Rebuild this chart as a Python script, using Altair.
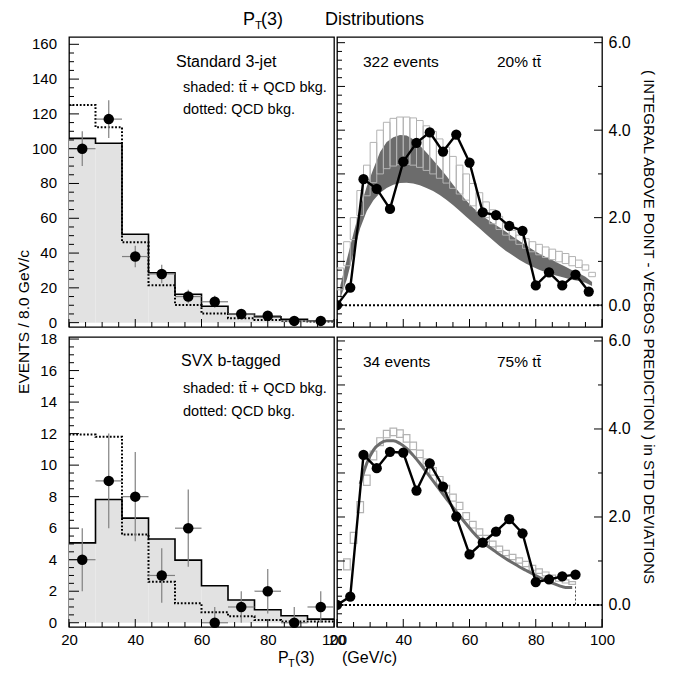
import altair as alt
import pandas as pd

FONT = "Liberation Sans"
W, H = 265, 290
U = alt.Undefined

# ---------------- left panels: 8 GeV histograms ----------------
EDGES = [20, 28, 36, 44, 52, 60, 68, 76, 84, 92, 100]
CENTERS = [24, 32, 40, 48, 56, 64, 72, 80, 88, 96]

TL_SHADED = [105.9, 103.1, 50.8, 28.7, 16.3, 9.4, 5.0, 3.4, 1.9, 1.1]
TL_DOTTED = [125.1, 112.3, 46.2, 21.5, 10.2, 5.2, 2.5, 1.5, 1.0, 0.6]
TL_DATA = [100, 117, 38, 28, 15, 12, 5, 4, 1, 1]
TL_ERR_LO = [10.0, 10.8, 6.2, 5.3, 3.9, 3.5, 2.2, 2.0, 1.0, 1.0]
TL_ERR_HI = [10.0, 10.8, 6.2, 5.3, 3.9, 3.5, 2.2, 2.0, 1.0, 1.0]

BL_SHADED = [5.07, 7.82, 6.64, 5.31, 3.97, 2.35, 1.44, 0.82, 0.44, 0.23]
BL_DOTTED = [11.95, 11.8, 5.6, 2.6, 1.23, 0.66, 0.42, 0.17, 0.08, 0.08]
BL_DATA = [4, 9, 8, 3, 6, 0, 1, 2, 0, 1]
BL_ERR_LO = [2.0, 3.0, 2.83, 1.73, 2.45, 0.0, 1.0, 1.41, 0.0, 1.0]
BL_ERR_HI = [2.0, 3.0, 2.83, 1.73, 2.45, 1.0, 1.0, 1.41, 1.0, 1.0]

# ---------------- right panels ----------------
TR_X = [20, 24, 28, 32, 36, 40, 44, 48, 52, 56, 60, 64, 68, 72, 76, 80, 84, 88, 92, 96]
TR_Y = [0.0, 0.40, 2.88, 2.66, 2.20, 3.28, 3.71, 3.95, 3.51, 3.90, 3.26, 2.12, 2.06,
        1.81, 1.70, 0.45, 0.75, 0.45, 0.70, 0.31]

TR_BAND_X0 = [20, 22, 24, 26, 28, 30, 32, 34, 36, 38, 40, 42, 44, 46, 48, 50, 52, 54, 56,
              58, 60, 62, 64, 66, 68, 70, 72, 74, 76, 78, 80, 82, 84, 86, 88, 90, 92, 94, 96]
TR_DARK_HI = [0.45, 1.05, 1.65, 2.22, 2.72, 3.12, 3.50, 3.73, 3.84, 3.89, 3.88, 3.79, 3.65,
              3.49, 3.32, 3.14, 2.96, 2.76, 2.57, 2.39, 2.23, 2.10, 1.98, 1.88, 1.78, 1.68,
              1.57, 1.47, 1.37, 1.27, 1.18, 1.10, 1.03, 0.95, 0.88, 0.80, 0.73, 0.65, 0.53]
TR_DARK_LO = [0.15, 0.60, 1.20, 1.76, 2.15, 2.40, 2.57, 2.68, 2.75, 2.79, 2.80, 2.78, 2.74,
              2.68, 2.61, 2.52, 2.41, 2.29, 2.16, 2.02, 1.89, 1.76, 1.62, 1.49, 1.36, 1.24,
              1.14, 1.04, 0.95, 0.88, 0.81, 0.75, 0.70, 0.66, 0.62, 0.58, 0.55, 0.51, 0.44]
TR_LIGHT_HI = [0.85, 1.45, 2.00, 2.62, 3.20, 3.72, 4.00, 4.18, 4.27, 4.30, 4.30, 4.28, 4.22,
               4.10, 3.97, 3.80, 3.61, 3.40, 3.20, 3.00, 2.78, 2.57, 2.36, 2.18, 2.03, 1.87,
               1.71, 1.60, 1.52, 1.45, 1.39, 1.33, 1.28, 1.23, 1.18, 1.11, 1.03, 0.92, 0.75]
TR_LIGHT_LO = [0.35, 0.90, 1.50, 2.05, 2.50, 2.80, 3.00, 3.12, 3.18, 3.21, 3.22, 3.20, 3.15,
               3.08, 3.00, 2.90, 2.79, 2.67, 2.54, 2.40, 2.27, 2.14, 2.00, 1.86, 1.73, 1.60,
               1.49, 1.39, 1.30, 1.22, 1.15, 1.09, 1.04, 0.99, 0.95, 0.90, 0.86, 0.80, 0.65]

BR_X = [20, 24, 28, 32, 36, 40, 44, 48, 52, 56, 60, 64, 68, 72, 76, 80, 84, 88, 92]
BR_Y = [0.0, 0.19, 3.41, 3.11, 3.48, 3.46, 2.60, 3.22, 2.69, 2.01, 1.15, 1.42, 1.67, 1.95,
        1.63, 0.52, 0.58, 0.65, 0.69]

BR_BAND_X0 = [22, 24, 26, 28, 30, 32, 34, 36, 38, 40, 42, 44, 46, 48, 50, 52, 54, 56, 58,
              60, 62, 64, 66, 68, 70, 72, 74, 76, 78, 80, 82, 84, 86, 88, 90]
BR_LIGHT_HI = [1.05, 1.65, 2.35, 2.95, 3.50, 3.80, 3.97, 4.02, 3.98, 3.87, 3.70, 3.52, 3.32,
               3.12, 2.92, 2.72, 2.52, 2.33, 2.10, 1.90, 1.73, 1.58, 1.45, 1.34, 1.24, 1.15,
               1.07, 0.99, 0.90, 0.82, 0.75, 0.68, 0.62, 0.57, 0.53]
BR_LIGHT_LO = [0.80, 1.40, 2.10, 2.72, 3.30, 3.62, 3.80, 3.85, 3.81, 3.70, 3.53, 3.35, 3.15,
               2.95, 2.75, 2.55, 2.36, 2.17, 1.94, 1.75, 1.58, 1.44, 1.32, 1.21, 1.12, 1.03,
               0.95, 0.87, 0.79, 0.72, 0.66, 0.60, 0.54, 0.50, 0.47]
BR_DARK_X = [27, 29, 31, 33, 35, 37, 39, 41, 43, 45, 47, 49, 51, 53, 55, 57, 59, 61, 63, 65,
             67, 69, 71, 73, 75, 77, 79, 81, 83, 85, 87, 89, 91]
BR_DARK_Y = [2.75, 3.22, 3.52, 3.67, 3.73, 3.73, 3.67, 3.56, 3.40, 3.22, 3.02, 2.82, 2.62,
             2.42, 2.22, 2.03, 1.84, 1.66, 1.50, 1.37, 1.26, 1.15, 1.05, 0.96, 0.87, 0.79,
             0.71, 0.63, 0.56, 0.50, 0.44, 0.40, 0.40]
BR_END_X = [92]
BR_END_Y = [0.42]

TL_YMAJOR = [0, 20, 40, 60, 80, 100, 120, 140, 160]
BL_YMAJOR = [0, 2, 4, 6, 8, 10, 12, 14, 16, 18]
R_YLABELS = [0, 2, 4, 6]
X_MAJOR = [20, 40, 60, 80, 100]


def rng(a, b, step):
    out, v = [], a
    while v <= b + 1e-9:
        out.append(round(v, 4))
        v += step
    return out


def xscale():
    return alt.Scale(domain=[20, 100], nice=False, zero=False)


HIDDEN = dict(labels=False, ticks=False, domain=False, grid=False, title=None)


def text_layer(txt, x, y, size, angle=0, align="left", baseline="alphabetic"):
    return alt.Chart(pd.DataFrame({"a": [0]})).mark_text(
        text=txt, font=FONT, fontSize=size, color="black", angle=angle,
        align=align, baseline=baseline
    ).encode(x=alt.value(x), y=alt.value(y))


def yticks(vals, ys, length, side, axis=U):
    df = pd.DataFrame({"v": vals})
    if side == "left":
        xa, xb = alt.value(0), alt.value(length)
    else:
        xa, xb = alt.value(W), alt.value(W - length)
    return alt.Chart(df).mark_rule(color="black", strokeWidth=1).encode(
        y=alt.Y("v:Q", scale=ys, axis=axis), x=xa, x2=xb)


def ylabels(vals, ys):
    df = pd.DataFrame({"v": vals, "t": [str(v) for v in vals]})
    return alt.Chart(df).mark_text(
        align="right", baseline="middle", font=FONT, fontSize=15, color="black"
    ).encode(y=alt.Y("v:Q", scale=ys), x=alt.value(-12), text="t:N")


def xticks(vals, xs, length, axis=U):
    df = pd.DataFrame({"v": vals})
    return alt.Chart(df).mark_rule(color="black", strokeWidth=1).encode(
        x=alt.X("v:Q", scale=xs, axis=axis), y=alt.value(H), y2=alt.value(H - length))


def xaxis(show):
    if not show:
        return alt.Axis(**HIDDEN)
    return alt.Axis(values=X_MAJOR, ticks=False, domain=False, grid=False, title=None,
                    labelFont=FONT, labelFontSize=15, labelPadding=5, labelFlush=False,
                    labelOverlap=False, labelColor="black", format="d")


def left_panel(shaded, dotted, data, elo, ehi, ydom, ymajor, minor_step, show_x, texts):
    xs = xscale()
    ys = alt.Scale(domain=ydom, nice=False, zero=False)

    def X(f):
        return alt.X(f"{f}:Q", scale=xs)

    def Y(f):
        return alt.Y(f"{f}:Q", scale=ys)

    hist = pd.DataFrame({"x0": EDGES[:-1], "x1": EDGES[1:], "s": shaded})
    fill = alt.Chart(hist).mark_rect(fill="#e2e2e2").encode(
        x=X("x0"), x2="x1", y=Y("s"), y2=alt.datum(0))
    step = pd.DataFrame({"x": EDGES, "s": shaded + [shaded[-1]], "d": dotted + [dotted[-1]]})
    sline = alt.Chart(step).mark_line(interpolate="step-after", color="black",
                                      strokeWidth=1.6).encode(x=X("x"), y=Y("s"))
    dline = alt.Chart(step).mark_line(interpolate="step-after", color="black",
                                      strokeWidth=2, strokeDash=[1.8, 1.8]).encode(
        x=X("x"), y=Y("d"))
    pts = pd.DataFrame({
        "x": CENTERS, "y": data,
        "lo": [d - e for d, e in zip(data, elo)],
        "hi": [d + e for d, e in zip(data, ehi)],
        "xl": [c - 4 for c in CENTERS], "xr": [c + 4 for c in CENTERS]})
    ev = alt.Chart(pts).mark_rule(color="#808080", strokeWidth=1.2).encode(
        x=X("x"), y=Y("lo"), y2="hi")
    eh = alt.Chart(pts).mark_rule(color="#808080", strokeWidth=1.2).encode(
        x=X("xl"), x2="xr", y=Y("y"))
    dots = alt.Chart(pts).mark_circle(size=110, color="black", opacity=1).encode(
        x=X("x"), y=Y("y"))

    yminor = [v for v in rng(ymajor[0], ymajor[-1], minor_step) if v not in ymajor]
    xminor = [v for v in rng(20, 100, 5) if v not in X_MAJOR]
    layers = [fill, sline, dline, ev, eh, dots,
              yticks(ymajor, ys, 10, "left", alt.Axis(**HIDDEN)),
              yticks(yminor, ys, 5, "left"), ylabels(ymajor, ys),
              xticks(X_MAJOR, xs, 8, xaxis(show_x)), xticks(xminor, xs, 5)] + texts
    return alt.layer(*layers).properties(width=W, height=H)


def right_axes(ys, show_x):
    xs = xscale()
    yax = alt.Axis(values=R_YLABELS, ticks=False, domain=False, grid=False, title=None,
                   orient="right", labelFont=FONT, labelFontSize=16, labelPadding=6,
                   labelOverlap=False, labelColor="black", format=".1f")
    lmajor = [0, 1, 2, 3, 4, 5, 6]
    lminor = [v for v in rng(-0.4, 6.0, 0.2) if abs(v - round(v)) > 0.01]
    xminor = [v for v in rng(20, 100, 5) if v not in X_MAJOR]
    return [yticks(lmajor, ys, 8, "left"), yticks(lminor, ys, 5, "left"),
            yticks([0, 2, 4, 6], ys, 8, "right", yax), yticks([1, 3, 5], ys, 4, "right"),
            xticks(X_MAJOR, xs, 8, xaxis(show_x)), xticks(xminor, xs, 5)]


def zero_and_data(xv, yv, ys):
    xs = xscale()
    zero = alt.Chart(pd.DataFrame({"y": [0]})).mark_rule(
        color="black", strokeWidth=2, strokeDash=[2, 2]).encode(
        y=alt.Y("y:Q", scale=ys), x=alt.value(0), x2=alt.value(W))
    df = pd.DataFrame({"x": xv, "y": yv})
    line = alt.Chart(df).mark_line(color="black", strokeWidth=2.4, clip=True).encode(
        x=alt.X("x:Q", scale=xs), y=alt.Y("y:Q", scale=ys))
    dots = alt.Chart(df).mark_circle(size=105, color="black", opacity=1, clip=True).encode(
        x=alt.X("x:Q", scale=xs), y=alt.Y("y:Q", scale=ys))
    return zero, line, dots


# ---------------- top-left ----------------
tl_texts = [
    text_layer("Standard 3-jet", 107, 30, 16),
    text_layer("shaded: tt\u0304 + QCD bkg.", 114, 55, 14.5),
    text_layer("dotted: QCD bkg.", 114, 77, 14.5),
    text_layer("EVENTS / 8.0 GeV/c", -45, 285, 15.5, angle=270, align="center",
               baseline="middle"),
    text_layer("P", 174, -12, 18),
    text_layer("T", 186, -8, 11.5),
    text_layer("(3)", 192, -12, 18),
    text_layer("Distributions", 256, -12, 18),
]
tl = left_panel(TL_SHADED, TL_DOTTED, TL_DATA, TL_ERR_LO, TL_ERR_HI, [-2.5, 164.2],
                TL_YMAJOR, 5, False, tl_texts)

# ---------------- bottom-left ----------------
bl_texts = [
    text_layer("SVX b-tagged", 112, 29, 16),
    text_layer("shaded: tt\u0304 + QCD bkg.", 114, 56, 14.5),
    text_layer("dotted: QCD bkg.", 114, 79, 14.5),
    text_layer("P", 209, 326, 16),
    text_layer("T", 219, 330, 11),
    text_layer("(3)", 226, 326, 16),
]
bl = left_panel(BL_SHADED, BL_DOTTED, BL_DATA, BL_ERR_LO, BL_ERR_HI, [-0.27, 18.13],
                BL_YMAJOR, 0.5, True, bl_texts)

# ---------------- top-right ----------------
ys_tr = alt.Scale(domain=[-0.5, 6.13], nice=False, zero=False)
xs = xscale()
band = pd.DataFrame({"x0": TR_BAND_X0, "x1": [x + 2 for x in TR_BAND_X0],
                     "xm": [x + 1 for x in TR_BAND_X0],
                     "dlo": TR_DARK_LO, "dhi": TR_DARK_HI,
                     "llo": TR_LIGHT_LO, "lhi": TR_LIGHT_HI})
tr_dark = alt.Chart(band).mark_area(color="#6c6c6c", opacity=1).encode(
    x=alt.X("xm:Q", scale=xs), y=alt.Y("dlo:Q", scale=ys_tr), y2="dhi")
tr_light = alt.Chart(band).mark_rect(fillOpacity=0, stroke="#b3b3b3", strokeWidth=1).encode(
    x=alt.X("x0:Q", scale=xs), x2="x1", y=alt.Y("llo:Q", scale=ys_tr), y2="lhi")
z, ln, dt = zero_and_data(TR_X, TR_Y, ys_tr)
tr = alt.layer(
    tr_dark, tr_light, z, ln, dt, *right_axes(ys_tr, False),
    text_layer("322 events", 26, 30, 15.5),
    text_layer("20% tt\u0304", 160, 30, 15.5),
    text_layer("( INTEGRAL ABOVE POINT - VECBOS PREDICTION )  in STD DEVIATIONS",
               312, 290, 15, angle=90, align="center", baseline="middle"),
).properties(width=W, height=H)

# ---------------- bottom-right ----------------
ys_br = alt.Scale(domain=[-0.5, 6.09], nice=False, zero=False)
bband = pd.DataFrame({"x0": BR_BAND_X0, "x1": [x + 2 for x in BR_BAND_X0],
                      "llo": BR_LIGHT_LO, "lhi": BR_LIGHT_HI})
br_light = alt.Chart(bband).mark_rect(fillOpacity=0, stroke="#b3b3b3", strokeWidth=1.2).encode(
    x=alt.X("x0:Q", scale=xs), x2="x1", y=alt.Y("llo:Q", scale=ys_br), y2="lhi")
br_dark = alt.Chart(pd.DataFrame({"x": BR_DARK_X, "y": BR_DARK_Y})).mark_line(
    color="#6c6c6c", strokeWidth=3, interpolate="monotone").encode(
    x=alt.X("x:Q", scale=xs), y=alt.Y("y:Q", scale=ys_br))
br_end = alt.Chart(pd.DataFrame({"x": BR_END_X, "y": BR_END_Y})).mark_rule(
    color="#444444", strokeWidth=1, strokeDash=[2, 2]).encode(
    x=alt.X("x:Q", scale=xs), y=alt.Y("y:Q", scale=ys_br), y2=alt.datum(0))
z2, ln2, dt2 = zero_and_data(BR_X, BR_Y, ys_br)
br = alt.layer(
    br_light, br_dark, br_end, z2, ln2, dt2, *right_axes(ys_br, True),
    text_layer("34 events", 26, 30, 15.5),
    text_layer("75% tt\u0304", 160, 30, 15.5),
    text_layer("(GeV/c)", 5, 326, 16),
).properties(width=W, height=H)

chart = alt.concat(
    tl, tr, bl, br, columns=2, spacing={"row": 10, "column": 3}, bounds="flush",
    padding={"left": 16, "top": 10, "right": 5, "bottom": 5},
).configure_view(stroke="black", strokeWidth=1.3).configure_axis(labelFont=FONT)

chart.save("out.html", embed_options={"renderer": "svg", "actions": False})
